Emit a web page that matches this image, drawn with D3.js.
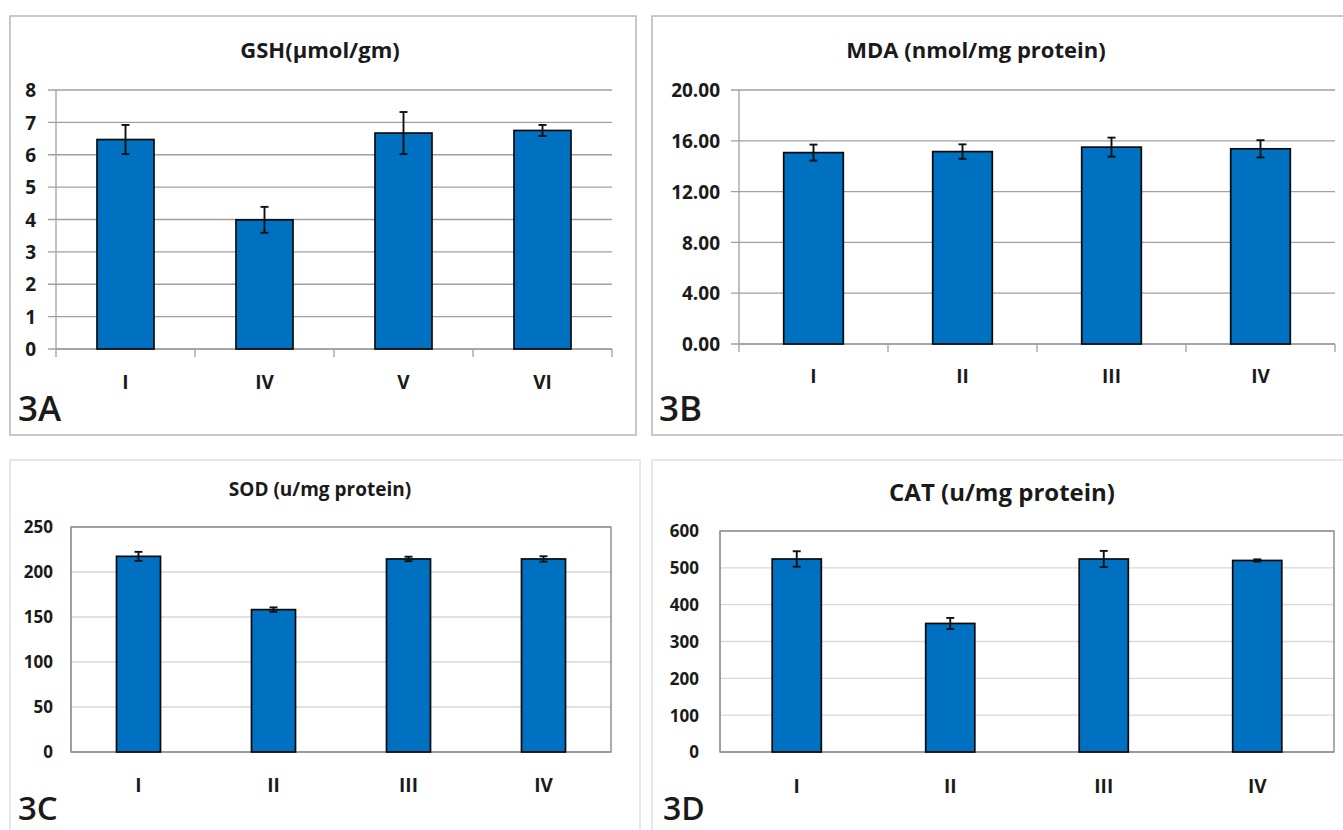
<!DOCTYPE html>
<html>
<head>
<meta charset="utf-8">
<script src="https://cdn.jsdelivr.net/npm/d3@7"></script>
<style>
  body { margin: 0; background: #fff; }
  svg { display: block; }
  text { font-family: "Open Sans", "Liberation Sans", sans-serif; fill: #1a1a1a; }
</style>
</head>
<body>
<script>
// Panel 3A - GSH
const gshGroups = ["I", "IV", "V", "VI"];
const gshMeans = [6.47, 3.99, 6.67, 6.75];
const gshErrors = [0.45, 0.40, 0.65, 0.17];
const gshTicks = [0, 1, 2, 3, 4, 5, 6, 7, 8];

// Panel 3B - MDA
const mdaGroups = ["I", "II", "III", "IV"];
const mdaMeans = [15.07, 15.15, 15.50, 15.37];
const mdaErrors = [0.63, 0.57, 0.75, 0.68];
const mdaTicks = [0, 4, 8, 12, 16, 20];

// Panel 3C - SOD
const sodGroups = ["I", "II", "III", "IV"];
const sodMeans = [217.4, 158.2, 214.5, 214.5];
const sodErrors = [5, 2.5, 2.5, 3];
const sodTicks = [0, 50, 100, 150, 200, 250];

// Panel 3D - CAT
const catGroups = ["I", "II", "III", "IV"];
const catMeans = [524, 349, 524, 520];
const catErrors = [21, 15, 22, 3];
const catTicks = [0, 100, 200, 300, 400, 500, 600];

const W = 1343, H = 830;
const barBlue = "#0070c0";

var svg = d3.select("body").append("svg")
    .attr("width", W)
    .attr("height", H);

// one panel: frame, title, grid, bars, error bars, labels
function drawPanel(p) {
    var g = svg.append("g");

    // outer frame
    g.append("rect")
        .attr("x", p.frame[0]).attr("y", p.frame[1])
        .attr("width", p.frame[2]).attr("height", p.frame[3])
        .attr("fill", "#fff")
        .attr("stroke", p.frameColor)
        .attr("stroke-width", 1.2);

    var x = d3.scaleBand()
        .domain(p.groups)
        .range([p.left, p.right]);

    var y = d3.scaleLinear()
        .domain([p.ticks[0], p.ticks[p.ticks.length - 1]])
        .range([p.bottom, p.top]);

    // gridlines
    g.selectAll(".grid")
        .data(p.ticks)
        .enter().append("line")
        .attr("x1", p.left - p.tickOut)
        .attr("x2", p.right)
        .attr("y1", d => y(d))
        .attr("y2", d => y(d))
        .attr("stroke", p.gridColor)
        .attr("stroke-width", 1.3);

    // plot area border (3C / 3D style)
    if (p.plotBorder) {
        g.append("rect")
            .attr("x", p.left).attr("y", p.top)
            .attr("width", p.right - p.left).attr("height", p.bottom - p.top)
            .attr("fill", "none")
            .attr("stroke", p.plotBorder)
            .attr("stroke-width", 1.3);
    }

    // y axis line
    g.append("line")
        .attr("x1", p.left).attr("x2", p.left)
        .attr("y1", p.top).attr("y2", p.bottom + p.tickOut)
        .attr("stroke", p.axisColor)
        .attr("stroke-width", 1.3);

    // x axis line
    g.append("line")
        .attr("x1", p.left).attr("x2", p.right)
        .attr("y1", p.bottom).attr("y2", p.bottom)
        .attr("stroke", p.axisColor)
        .attr("stroke-width", 1.3);

    // category boundary ticks
    if (p.tickOut > 0) {
        g.selectAll(".xtick")
            .data(p.groups.slice(1).concat(["__end"]))
            .enter().append("line")
            .attr("x1", d => d === "__end" ? p.right : x(d))
            .attr("x2", d => d === "__end" ? p.right : x(d))
            .attr("y1", p.bottom)
            .attr("y2", p.bottom + p.tickOut)
            .attr("stroke", p.axisColor)
            .attr("stroke-width", 1.3);
    }

    // y tick labels
    var yAxis = d3.axisLeft(y)
        .tickValues(p.ticks)
        .tickSize(0)
        .tickPadding(0)
        .tickFormat(d3.format(p.fmt));
    var ya = g.append("g")
        .attr("transform", "translate(" + p.labelRight + ",0)")
        .call(yAxis);
    ya.select(".domain").remove();
    ya.selectAll("text")
        .attr("font-size", p.tickFont)
        .attr("font-weight", 700)
        .attr("font-family", "'Open Sans', sans-serif")
        .attr("fill", "#1a1a1a")
        .attr("dy", "0.35em");

    // x category labels
    var xAxis = d3.axisBottom(x).tickSize(0).tickPadding(0);
    var xa = g.append("g")
        .attr("transform", "translate(0," + p.xLabelY + ")")
        .call(xAxis);
    xa.select(".domain").remove();
    xa.selectAll("text")
        .attr("font-size", p.xFont)
        .attr("font-weight", 700)
        .attr("font-family", "'Open Sans', sans-serif")
        .attr("fill", "#1a1a1a")
        .attr("dy", 0);

    var rows = p.groups.map((c, i) => ({ group: c, mean: p.means[i], err: p.errors[i] }));
    var bw = x.bandwidth() * p.barRatio;

    // bars
    g.selectAll(".bar")
        .data(rows)
        .enter().append("rect")
        .attr("x", d => x(d.group) + (x.bandwidth() - bw) / 2)
        .attr("width", bw)
        .attr("y", d => y(d.mean))
        .attr("height", d => y(0) - y(d.mean))
        .attr("fill", barBlue)
        .attr("stroke", "#0a0a0a")
        .attr("stroke-width", 1.7);

    // error bars
    var eb = g.selectAll(".err")
        .data(rows)
        .enter().append("g")
        .attr("stroke", "#111")
        .attr("stroke-width", 1.9);
    var cx = d => x(d.group) + x.bandwidth() / 2;
    eb.append("line")
        .attr("x1", cx).attr("x2", cx)
        .attr("y1", d => y(d.mean + d.err))
        .attr("y2", d => y(d.mean - d.err));
    eb.append("line")
        .attr("x1", d => cx(d) - p.cap).attr("x2", d => cx(d) + p.cap)
        .attr("y1", d => y(d.mean + d.err)).attr("y2", d => y(d.mean + d.err));
    eb.append("line")
        .attr("x1", d => cx(d) - p.cap).attr("x2", d => cx(d) + p.cap)
        .attr("y1", d => y(d.mean - d.err)).attr("y2", d => y(d.mean - d.err));

    // title
    g.append("text")
        .attr("x", p.titleX).attr("y", p.titleY)
        .attr("text-anchor", "middle")
        .attr("font-size", p.titleFont)
        .attr("font-weight", 700)
        .text(p.title);

    // panel letter
    g.append("text")
        .attr("x", p.tagX).attr("y", p.tagY)
        .attr("font-size", p.tagFont)
        .attr("font-weight", 600)
        .attr("fill", "#111")
        .text(p.tag);
}

drawPanel({
    groups: gshGroups, means: gshMeans, errors: gshErrors, ticks: gshTicks, fmt: "d",
    frame: [10, 16, 626, 419], frameColor: "#a6a6a6",
    left: 56, right: 612, top: 90, bottom: 349, tickOut: 8,
    gridColor: "#a0a0a0", axisColor: "#a0a0a0", plotBorder: null,
    barRatio: 0.41, cap: 4,
    labelRight: 36, tickFont: 19, xLabelY: 389, xFont: 19,
    title: "GSH(µmol/gm)", titleX: 320, titleY: 58, titleFont: 22,
    tag: "3A", tagX: 18, tagY: 421, tagFont: 35
});

drawPanel({
    groups: mdaGroups, means: mdaMeans, errors: mdaErrors, ticks: mdaTicks, fmt: ".2f",
    frame: [652, 16, 700, 419], frameColor: "#a6a6a6",
    left: 739, right: 1335, top: 90, bottom: 344, tickOut: 8,
    gridColor: "#a0a0a0", axisColor: "#a0a0a0", plotBorder: null,
    barRatio: 0.40, cap: 4,
    labelRight: 720, tickFont: 19, xLabelY: 383, xFont: 19,
    title: "MDA (nmol/mg protein)", titleX: 976, titleY: 58, titleFont: 22,
    tag: "3B", tagX: 659, tagY: 421, tagFont: 35
});

drawPanel({
    groups: sodGroups, means: sodMeans, errors: sodErrors, ticks: sodTicks, fmt: "d",
    frame: [10, 460, 630, 390], frameColor: "#d9d9d9",
    left: 71, right: 611, top: 527, bottom: 752, tickOut: 0,
    gridColor: "#d9d9d9", axisColor: "#9a9a9a", plotBorder: "#7f7f7f",
    barRatio: 0.326, cap: 4,
    labelRight: 53, tickFont: 17, xLabelY: 792, xFont: 19,
    title: "SOD (u/mg protein)", titleX: 320, titleY: 496, titleFont: 19,
    tag: "3C", tagX: 18, tagY: 820, tagFont: 33
});

drawPanel({
    groups: catGroups, means: catMeans, errors: catErrors, ticks: catTicks, fmt: "d",
    frame: [652, 460, 700, 390], frameColor: "#d9d9d9",
    left: 720, right: 1334, top: 531, bottom: 752, tickOut: 0,
    gridColor: "#d9d9d9", axisColor: "#9a9a9a", plotBorder: "#7f7f7f",
    barRatio: 0.32, cap: 4,
    labelRight: 699, tickFont: 17, xLabelY: 793, xFont: 19,
    title: "CAT (u/mg protein)", titleX: 1002, titleY: 501, titleFont: 24,
    tag: "3D", tagX: 663, tagY: 820, tagFont: 32
});
</script>
</body>
</html>
